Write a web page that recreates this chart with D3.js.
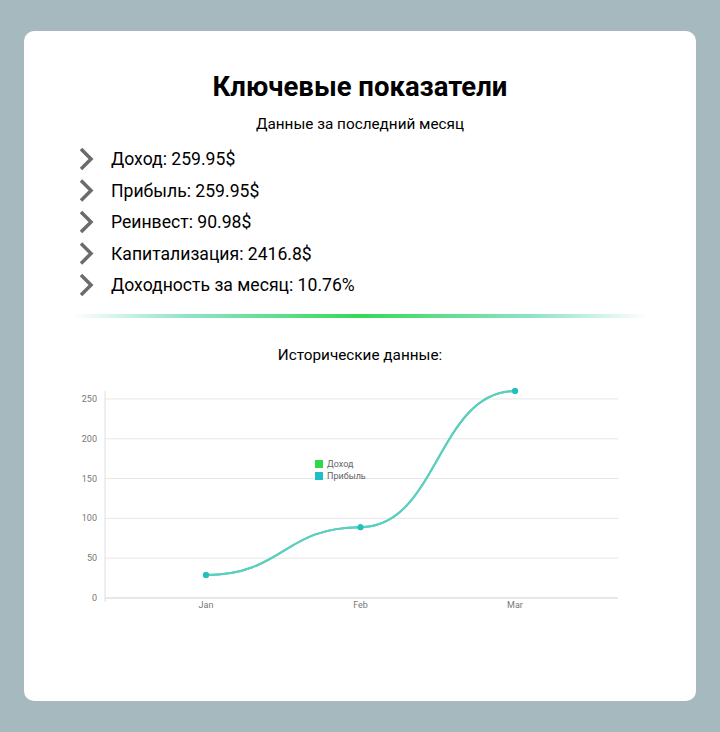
<!DOCTYPE html><html><head><meta charset="utf-8"><script src="https://d3js.org/d3.v7.min.js"></script>
<style>body{margin:0;background:#a6b9bf;font-family:Roboto,sans-serif}</style></head><body><svg id="c" width="720" height="732"></svg>
<script>
const items=["Доход: 259.95$","Прибыль: 259.95$","Реинвест: 90.98$","Капитализация: 2416.8$","Доходность за месяц: 10.76%"];
const months=["Jan","Feb","Mar"];
const income=[29,89,260];
const profit=[29,89,260];
const yTicks=[0,50,100,150,200,250];
const svg=d3.select("#c");
svg.append("rect").attr("x",24).attr("y",31).attr("width",672).attr("height",670).attr("rx",10).attr("fill","#fff");
svg.append("text").attr("x",360).attr("y",96).attr("text-anchor","middle").attr("font-size",27.5).attr("font-weight",700).text("Ключевые показатели");
svg.append("text").attr("x",360).attr("y",129).attr("text-anchor","middle").attr("font-size",15.3).text("Данные за последний месяц");
items.forEach((t,i)=>{const y=159+i*31.5;
svg.append("path").attr("d",`M81,${y-10}L91,${y}L81,${y+10}`).attr("fill","none").attr("stroke","#6b6b6b").attr("stroke-width",3.5);
svg.append("text").attr("x",111).attr("y",y+6).attr("font-size",17.6).text(t);});
const g=svg.append("defs").append("linearGradient").attr("id","gr");
[[0,"#fff"],[0.2,"#8fe3c8"],[0.5,"#33d957"],[0.8,"#8fe3c8"],[1,"#fff"]].forEach(s=>g.append("stop").attr("offset",s[0]).attr("stop-color",s[1]));
svg.append("rect").attr("x",72).attr("y",314).attr("width",576).attr("height",4).attr("fill","url(#gr)");
svg.append("text").attr("x",360).attr("y",360).attr("text-anchor","middle").attr("font-size",15.3).text("Исторические данные:");
const x=d3.scalePoint().domain(months).range([206,515]);
const y=d3.scaleLinear().domain([0,260]).range([598,391]);
yTicks.forEach(v=>{svg.append("line").attr("x1",105).attr("x2",618).attr("y1",y(v)).attr("y2",y(v)).attr("stroke",v?"#e6e6e6":"#d0d0d0");
svg.append("text").attr("x",97).attr("y",y(v)+3).attr("text-anchor","end").attr("font-size",9).attr("fill","#777").text(v);});
svg.append("line").attr("x1",105).attr("x2",105).attr("y1",391).attr("y2",602).attr("stroke","#e0e0e0");
months.forEach(m=>svg.append("text").attr("x",x(m)).attr("y",608).attr("text-anchor","middle").attr("font-size",9).attr("fill","#777").text(m));
const line=d3.line().x((d,i)=>x(months[i])).y(d=>y(d)).curve(d3.curveBumpX);
[[income,"#33d957"],[profit,"#5ccccc"]].forEach(([s,c])=>{
svg.append("path").attr("d",line(s)).attr("fill","none").attr("stroke",c).attr("stroke-width",2);
s.forEach((v,i)=>svg.append("circle").attr("cx",x(months[i])).attr("cy",y(v)).attr("r",3).attr("fill",c==="#5ccccc"?"#1fbfc6":c));});
[["Доход","#2ed94a"],["Прибыль","#1fbfc6"]].forEach(([t,c],i)=>{
svg.append("rect").attr("x",315).attr("y",460+i*12).attr("width",8).attr("height",8).attr("fill",c);
svg.append("text").attr("x",327).attr("y",467+i*12).attr("font-size",9).attr("fill","#666").text(t);});
</script></body></html>
